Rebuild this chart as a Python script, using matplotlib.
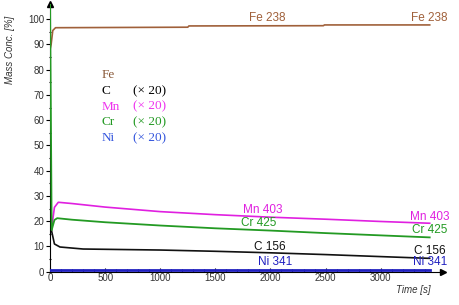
import matplotlib
matplotlib.use('Agg')
import matplotlib.pyplot as plt

plt.rcParams['font.family'] = ['Liberation Sans', 'DejaVu Sans']

# ── Data ─────────────────────────────────────────────────────────────────────
t_fe = [0, 10, 25, 50, 1250, 1260, 2480, 2490, 3445]
fe = [88, 90, 95.5, 96.6, 96.8, 97.3, 97.4, 97.7, 97.7]

t_mn = [0, 15, 40, 75, 200, 500, 1000, 1500, 2000, 2500, 3000, 3445]
mn = [24, 17.5, 25.5, 27.5, 27.0, 25.6, 23.8, 22.6, 21.6, 20.8, 19.9, 19.2]

t_cr = [0, 15, 40, 65, 200, 500, 1000, 1500, 2000, 2500, 3000, 3445]
cr = [110, 16.5, 20.5, 21.2, 20.6, 19.6, 18.3, 17.2, 16.3, 15.3, 14.4, 13.6]

t_c = [0, 15, 40, 90, 300, 1000, 1500, 2000, 2500, 3000, 3445]
c = [30, 16, 11, 9.8, 9.0, 8.6, 8.1, 7.5, 6.8, 6.0, 5.3]

t_ni = [0, 3445]
ni = [0.5, 0.5]

FE_COL = '#a0603a'
MN_COL = '#e020e0'
CR_COL = '#239a23'
C_COL = '#111111'
NI_COL = '#2020c0'

fig = plt.figure(figsize=(4.59, 3.05), dpi=100)
ax = fig.add_axes([0.109, 0.109, 0.856, 0.878])

ax.plot(t_fe, fe, color=FE_COL, lw=1.2)
ax.plot(t_mn, mn, color=MN_COL, lw=1.2)
ax.plot(t_cr, cr, color=CR_COL, lw=1.3, zorder=3)
ax.plot(t_c, c, color=C_COL, lw=1.2)
ax.plot(t_ni, ni, color=NI_COL, lw=2.0, zorder=3)

ax.set_xlim(0, 3565)
ax.set_ylim(0, 106)

for s in ['top', 'right']:
    ax.spines[s].set_visible(False)
ax.spines['left'].set_color('black')
ax.spines['bottom'].set_color('black')

# arrow heads on the axes
ax.plot(1, 0, '>k', ms=5, transform=ax.get_yaxis_transform(), clip_on=False)
ax.plot(0, 1, '^k', ms=5, transform=ax.get_xaxis_transform(), clip_on=False)

ax.set_xticks([0, 500, 1000, 1500, 2000, 2500, 3000])
ax.set_xticks(range(0, 3500, 100), minor=True)
ax.set_yticks(range(0, 101, 10))
ax.set_yticks(range(0, 101, 5), minor=True)
ax.tick_params(axis='both', which='major', labelsize=7, labelcolor='#333333',
               length=3, width=0.8, pad=1)
ax.tick_params(axis='x', which='both', direction='in')
ax.tick_params(axis='x', which='minor', length=2, width=0.8)
ax.tick_params(axis='y', which='minor', length=2, width=0.8, direction='inout')

ax.set_ylabel('Mass Conc. [%]', fontsize=7, style='italic', color='#333333')
ax.yaxis.set_label_coords(-0.089, 0.83)
ax.text(413 / 459, 1 - 290 / 305, 'Time [s]', fontsize=7, style='italic',
        color='#333333', transform=fig.transFigure, ha='center', va='center')

# line labels
lab = dict(fontsize=8.5, ha='center', va='center')
ax.text(1968, 100.3, 'Fe 238', color=FE_COL, **lab)
ax.text(3445, 100.3, 'Fe 238', color=FE_COL, **lab)
ax.text(1930, 24.6, 'Mn 403', color=MN_COL, **lab)
ax.text(3445, 21.8, 'Mn 403', color=MN_COL, **lab)
ax.text(1890, 19.4, 'Cr 425', color=CR_COL, **lab)
ax.text(3445, 16.4, 'Cr 425', color=CR_COL, **lab)
ax.text(1990, 9.9, 'C 156', color=C_COL, **lab)
ax.text(3445, 8.2, 'C 156', color=C_COL, **lab)
ax.text(2040, 4.0, 'Ni 341', color=NI_COL, **lab)
ax.text(3445, 4.0, 'Ni 341', color=NI_COL, **lab)

# element legend (serif)
leg_names = ['Fe', 'C', 'Mn', 'Cr', 'Ni']
leg_cols = ['#8a5a3a', '#000000', '#ee33ee', '#229922', '#3355dd']
leg_mult = ['', '(× 20)', '(× 20)', '(× 20)', '(× 20)']
for i, (n, col, m) in enumerate(zip(leg_names, leg_cols, leg_mult)):
    y = 305 - (75 + i * 15.8)
    fig.text(102 / 459, y / 305, n, color=col, fontsize=9.5,
             family='Liberation Serif', va='center')
    if m:
        fig.text(133 / 459, y / 305, m, color=col, fontsize=9.5,
                 family='Liberation Serif', va='center')

fig.savefig('out.png', dpi=100)
